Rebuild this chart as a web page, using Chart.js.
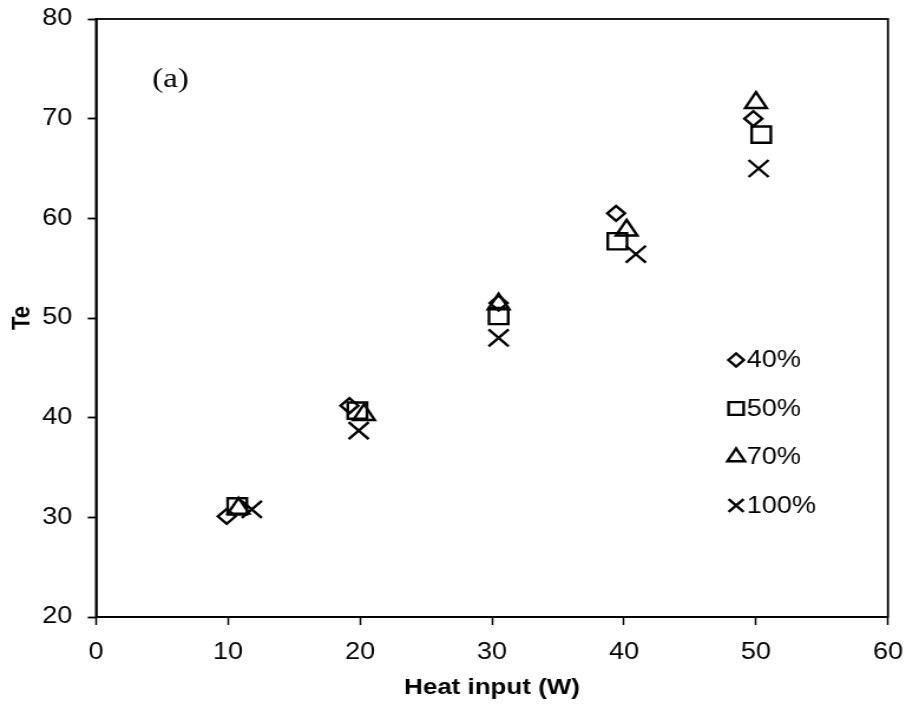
<!DOCTYPE html>
<html>
<head>
<meta charset="utf-8">
<script src="https://cdn.jsdelivr.net/npm/chart.js@4"></script>
<style>
  html, body { margin: 0; padding: 0; background: #fff; }
  #wrap { width: 906px; height: 705px; overflow: hidden; }
  /* the original figure is slightly wider than tall in its lettering, so the canvas is drawn narrow and stretched */
  #chart { width: 906px !important; height: 705px !important; display: block; }
</style>
</head>
<body>
<div id="wrap"><canvas id="chart" width="768" height="705" style="width:906px;height:705px"></canvas></div>
<script>
// Heat input (W) and Te for each fill ratio
const seriesNames = ['40%', '50%', '70%', '100%'];
const heat40 = [9.9, 19.2, 30.5, 39.4, 49.8];
const te40 = [30.1, 41.2, 51.5, 60.5, 70.0];
const heat50 = [10.7, 19.8, 30.5, 39.5, 50.4];
const te50 = [31.1, 40.7, 50.2, 57.7, 68.4];
const heat70 = [10.8, 20.3, 30.5, 40.2, 50.0];
const te70 = [30.9, 40.3, 51.4, 58.8, 71.6];
const heat100 = [11.8, 19.9, 30.5, 40.9, 50.2];
const te100 = [30.8, 38.7, 48.0, 56.4, 65.0];
const xTicks = [0, 10, 20, 30, 40, 50, 60];
const yTicks = [20, 30, 40, 50, 60, 70, 80];

const pts = (xs, ys) => xs.map((x, i) => ({ x: x, y: ys[i] }));

const styles = [
    { pointStyle: 'rectRot', pointRadius: 7.5, legendRadius: 6.5 },
    { pointStyle: 'rect', pointRadius: 11.5, legendRadius: 9 },
    { pointStyle: 'triangle', pointRadius: 10.5, legendRadius: 8.5 },
    { pointStyle: 'crossRot', pointRadius: 12, legendRadius: 9 }
];
const seriesData = [pts(heat40, te40), pts(heat50, te50), pts(heat70, te70), pts(heat100, te100)];

const datasets = seriesNames.map((name, i) => ({
    label: name,
    data: seriesData[i],
    pointStyle: styles[i].pointStyle,
    pointRadius: styles[i].pointRadius,
    pointBorderWidth: 2.4,
    pointBorderColor: '#000',
    pointBackgroundColor: 'rgba(0,0,0,0)',
    showLine: false
}));

// scale paddings off, so layout.padding alone places the plot area
const noScalePad = s => {
    s.paddingTop = 0; s.paddingBottom = 0; s.paddingLeft = 0; s.paddingRight = 0;
};

// plot frame, legend inside the plot area, and the "(a)" label
const insideLegend = {
    id: 'insideLegend',
    beforeDatasetsDraw(chart) {
        const a = chart.chartArea;
        const ctx = chart.ctx;
        ctx.save();
        ctx.strokeStyle = '#000';
        ctx.lineWidth = 1.8;
        ctx.strokeRect(a.left, a.top, a.right - a.left, a.bottom - a.top);
        ctx.restore();
    },
    afterDatasetsDraw(chart) {
        const ctx = chart.ctx;
        ctx.save();
        ctx.font = '23px "Liberation Sans", Arial, sans-serif';
        ctx.textBaseline = 'middle';
        ctx.textAlign = 'left';
        seriesNames.forEach((name, i) => {
            const y = 360 + i * 48.5;
            ctx.strokeStyle = '#000';
            ctx.fillStyle = 'rgba(0,0,0,0)';
            ctx.lineWidth = 2.4;
            Chart.helpers.drawPoint(ctx, {
                pointStyle: styles[i].pointStyle,
                radius: styles[i].legendRadius,
                rotation: 0,
                borderWidth: 2.4
            }, 624, y);
            ctx.fillStyle = '#000';
            ctx.fillText(name, 633, y + 1);
        });
        ctx.font = '28px "Liberation Serif", "Times New Roman", serif';
        ctx.fillText('(a)', 129, 80);
        ctx.restore();
    }
};

new Chart(document.getElementById('chart'), {
    type: 'scatter',
    data: { datasets: datasets },
    options: {
        responsive: false,
        animation: false,
        layout: { padding: { top: 19, right: 15.3, left: 2, bottom: 0 } },
        plugins: { legend: { display: false }, tooltip: { enabled: false } },
        scales: {
            x: {
                type: 'linear',
                min: 0, max: 60,
                afterBuildTicks: s => { s.ticks = xTicks.map(v => ({ value: v })); },
                afterFit: s => { s.height = 88; noScalePad(s); },
                grid: { display: true, drawOnChartArea: false, drawTicks: true, tickLength: 8, tickColor: '#000', tickWidth: 1.5 },
                border: { color: '#000', width: 1.8 },
                ticks: { color: '#000', padding: 14, font: { family: '"Liberation Sans", Arial, sans-serif', size: 23 } },
                title: {
                    display: true, text: 'Heat input (W)', color: '#000', padding: { top: 2 },
                    font: { family: '"Liberation Sans", Arial, sans-serif', size: 22, weight: 'bold' }
                }
            },
            y: {
                type: 'linear',
                min: 20, max: 80,
                afterBuildTicks: s => { s.ticks = yTicks.map(v => ({ value: v })); },
                afterFit: s => { s.width = 79.4; noScalePad(s); },
                grid: { display: true, drawOnChartArea: false, drawTicks: true, tickLength: 7, tickColor: '#000', tickWidth: 1.8 },
                border: { color: '#000', width: 1.8 },
                ticks: { color: '#000', padding: 13, font: { family: '"Liberation Sans", Arial, sans-serif', size: 23 } },
                title: {
                    display: true, text: 'Te', color: '#000', padding: { bottom: 14 },
                    font: { family: '"Liberation Sans", Arial, sans-serif', size: 22, weight: 'bold' }
                }
            }
        }
    },
    plugins: [insideLegend]
});
</script>
</body>
</html>
